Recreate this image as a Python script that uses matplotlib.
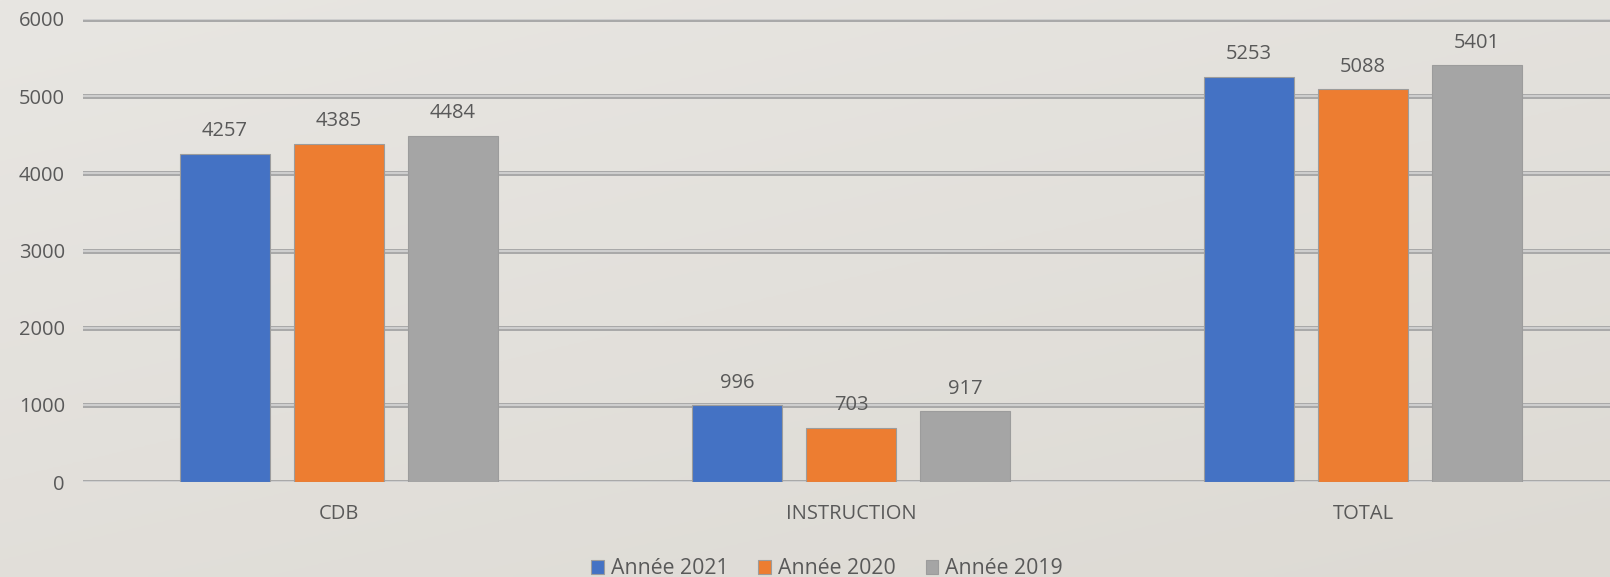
import matplotlib
matplotlib.use("Agg")
import matplotlib.pyplot as plt
import matplotlib.patheffects as pe
import numpy as np

plt.rcParams['font.family'] = ['Open Sans', 'DejaVu Sans']

categories = ['CDB', 'INSTRUCTION', 'TOTAL']
series_names = ['Année 2021', 'Année 2020', 'Année 2019']
values_2021 = [4257, 996, 5253]
values_2020 = [4385, 703, 5088]
values_2019 = [4484, 917, 5401]
yticks = [0, 1000, 2000, 3000, 4000, 5000, 6000]

colors = ['#4472C4', '#ED7D31', '#A5A5A5']
text_color = '#595959'

W, H = 1610, 577
fig = plt.figure(figsize=(W / 100, H / 100), dpi=100)

# fond en dégradé léger
bg = fig.add_axes([0, 0, 1, 1], zorder=-10)
yy, xx = np.mgrid[0:1:200j, 0:1:400j]
t = 0.6 * yy + 0.4 * xx
top = np.array([232, 230, 226]) / 255
bot = np.array([221, 218, 212]) / 255
img = top[None, None, :] * (1 - t[..., None]) + bot[None, None, :] * t[..., None]
bg.imshow(img, aspect='auto', extent=[0, 1, 0, 1], origin='upper')
bg.axis('off')

left = 83 / W
ax = fig.add_axes([left, (H - 482) / H, 1 - left, (482 - 19) / H])
ax.patch.set_alpha(0)

x = np.arange(len(categories))
step = 0.2227
width = 0.174
all_vals = [values_2021, values_2020, values_2019]
for i, (vals, name) in enumerate(zip(all_vals, series_names)):
    bars = ax.bar(x + (i - 1) * step, vals, width, color=colors[i], label=name,
                  edgecolor='#9C9C9C', linewidth=0.8, zorder=3)
    for b, v in zip(bars, vals):
        ax.annotate(str(v), (b.get_x() + b.get_width() / 2, v),
                    xytext=(0, 9), textcoords='offset points',
                    ha='center', va='bottom', fontsize=14.5, color=text_color)

ax.set_xlim(-0.5, -0.5 + (W - 83) / 512)
ax.set_ylim(0, 6000)
ax.set_yticks(yticks)
ax.set_xticks(x)
ax.set_xticklabels(categories)
ax.tick_params(axis='both', length=0, labelsize=14.5, labelcolor=text_color)
ax.tick_params(axis='x', pad=16)
ax.tick_params(axis='y', pad=13)
for s in ax.spines.values():
    s.set_visible(False)

ax.set_axisbelow(True)
ax.yaxis.grid(True, color='#D6D6D6', linewidth=1.2)
for line in ax.get_ygridlines():
    line.set_path_effects([pe.Stroke(linewidth=3.6, foreground='#A9A9A9'), pe.Normal()])

fig.legend(loc='center', bbox_to_anchor=(827 / W, 8 / H), ncol=3, frameon=False,
           fontsize=15.3, labelcolor=text_color, handlelength=0.6, handleheight=0.6,
           handletextpad=0.33, columnspacing=1.4, borderpad=0)

fig.savefig('out.png', dpi=100)
